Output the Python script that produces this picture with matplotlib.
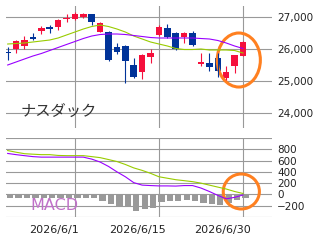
import numpy as np
import matplotlib
matplotlib.use('Agg')
import matplotlib.pyplot as plt
import matplotlib.transforms as mtransforms
from matplotlib.patches import Ellipse
from matplotlib.ticker import FuncFormatter

# 日付(営業日)
dates = ['2026/5/19', '2026/5/20', '2026/5/21', '2026/5/22', '2026/5/26', '2026/5/27',
         '2026/5/28', '2026/5/29', '2026/6/1', '2026/6/2', '2026/6/3', '2026/6/4',
         '2026/6/5', '2026/6/8', '2026/6/9', '2026/6/10', '2026/6/11', '2026/6/12',
         '2026/6/15', '2026/6/16', '2026/6/17', '2026/6/18', '2026/6/22', '2026/6/23',
         '2026/6/24', '2026/6/25', '2026/6/26', '2026/6/29', '2026/6/30']
# 四本値
open_ = [25900, 26000, 26090, 26375, 26560, 26690, 26690, 26940, 26930, 27010,
         27090, 26530, 26530, 26060, 26090, 25500, 25280, 25750, 26440, 26650,
         26500, 26370, 26500, 25530, 25560, 25720, 25090, 25470, 25780]
high = [26060, 26280, 26400, 26500, 26720, 26750, 26940, 27100, 27150, 27130,
        27100, 26850, 26560, 26190, 26130, 25720, 25840, 26000, 26750, 26780,
        26530, 26530, 26560, 25875, 25875, 25870, 25470, 25820, 26250]
low = [25660, 25875, 26000, 26280, 26470, 26500, 26590, 26840, 26900, 26960,
       26750, 26530, 25625, 25840, 24940, 25100, 25060, 25560, 26400, 26340,
       25970, 26190, 26090, 25470, 25310, 25125, 25030, 25250, 25780]
close = [25870, 26250, 26280, 26310, 26650, 26640, 26900, 26980, 27080, 27090,
         26840, 26810, 25660, 25900, 25625, 25125, 25810, 25875, 26690, 26370,
         26000, 26500, 26120, 25590, 25440, 25310, 25280, 25810, 26220]
# 移動平均
ma_short = [26156, 26172, 26188, 26219, 26250, 26281, 26344, 26438, 26531, 26625,
            26703, 26750, 26703, 26625, 26531, 26406, 26313, 26219, 26156, 26094,
            26016, 25984, 25984, 26000, 25969, 25969, 25969, 25953, 25875]
ma_long = [25500, 25594, 25688, 25781, 25859, 25953, 26047, 26141, 26234, 26328,
           26406, 26453, 26469, 26469, 26453, 26422, 26391, 26359, 26344, 26344,
           26344, 26344, 26344, 26328, 26313, 26266, 26188, 26094, 26016]
# MACD
macd = [726, 705, 687, 670, 661, 661, 661, 661, 661, 661,
        626, 574, 496, 400, 313, 209, 165, 157, 151, 151,
        148, 157, 157, 113, 52, -17, -78, -52, -9]
signal = [778, 748, 722, 713, 705, 705, 691, 687, 687, 687,
          670, 652, 618, 583, 531, 470, 426, 374, 313, 287,
          261, 244, 226, 200, 165, 130, 96, 52, 17]
hist = [-60, -60, -60, -60, -60, -60, -55, -55, -55, -55,
        -65, -122, -178, -220, -210, -295, -255, -240, -140, -120,
        -120, -105, -120, -160, -175, -180, -150, -90, -65]

tick_dates = ['2026/6/1', '2026/6/15', '2026/6/30']

RED = '#f5103c'
BLUE = '#003399'
GRID = '#999999'

x = np.arange(len(dates))
o = np.array(open_)
c = np.array(close)
colors = np.where(c >= o, RED, BLUE)
tick_pos = [dates.index(d) for d in tick_dates]

fig = plt.figure(figsize=(3.19, 2.42), dpi=100)
ax1 = fig.add_axes([6 / 319, 1 - 128 / 242, 266 / 319, 122 / 242])
ax2 = fig.add_axes([6 / 319, 1 - 217 / 242, 266 / 319, 79 / 242])

for ax in (ax1, ax2):
    for s in ax.spines.values():
        s.set_visible(False)
    ax.set_axisbelow(True)
    ax.grid(True, color=GRID, lw=0.8)
    ax.set_xticks(tick_pos)
    ax.set_xlim(-0.2, 31.45)
    ax.yaxis.tick_right()
    ax.tick_params(length=0, labelsize=7.5, colors='#222222')
    ax.tick_params(axis='y', pad=3.6)

# ローソク足
ax1.vlines(x, low, high, colors=colors, lw=0.8)
ax1.bar(x, np.maximum(np.abs(c - o), 40), bottom=np.minimum(o, c),
        width=0.78, color=colors, lw=0)
ax1.plot(x, ma_short, color='#99cc00', lw=0.8)
ax1.plot(x, ma_long, color='#9900ff', lw=0.8)
ax1.set_ylim(23531, 27344)
ax1.set_yticks([24000, 25000, 26000, 27000])
ax1.yaxis.set_major_formatter(FuncFormatter(lambda v, p: f'{int(v):,}'))
ax1.set_xticklabels([])
ax1.text(0.053, 0.14, 'ナスダック', transform=ax1.transAxes, fontsize=11,
         family=['Noto Sans CJK JP', 'DejaVu Sans'], color='#333333', va='center')
ax1.add_patch(Ellipse((27.5, 25656), 5.13, 1688, fill=False,
                      ec='#ff8020', lw=2.2, clip_on=False))

# MACD
ax2.bar(x + 0.3, hist, width=0.75, color='#999999', lw=0)
ax2.plot(x, signal, color='#99cc00', lw=0.8)
ax2.plot(x, macd, color='#9900ff', lw=0.8)
ax2.set_ylim(-400, 1000)
yt = list(range(-400, 1001, 200))
ax2.set_yticks(yt)
ax2.set_yticklabels(['' if v in (-400, 1000) else f'{v}'.replace('-', '\u2212') for v in yt])
ax2.set_xticklabels(tick_dates, fontsize=8)
ax2.tick_params(axis='x', pad=5.8)
shift = mtransforms.ScaledTranslation(-21 / 100, 0, fig.dpi_scale_trans)
for lbl in ax2.get_xticklabels():
    lbl.set_transform(lbl.get_transform() + shift)
ax2.text(0.09, 0.15, 'MACD', transform=ax2.transAxes, fontsize=11.5,
         color='#c070c8', va='center')
ax2.add_patch(Ellipse((27.8, 52), 4.3, 620, fill=False,
                      ec='#ff8020', lw=2.2, clip_on=False))

plt.savefig('out.png', dpi=100)
